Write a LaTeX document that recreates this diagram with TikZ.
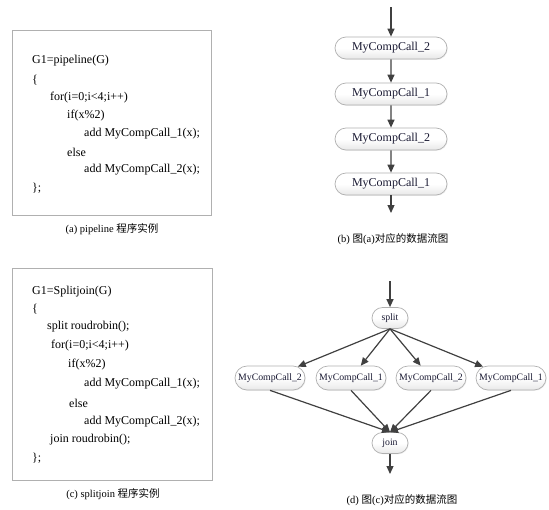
\documentclass[tikz,border=0pt]{standalone}
\usepackage{fontspec}
\setmainfont{Liberation Serif}
\newfontfamily\cjk{Noto Sans CJK SC}
\usetikzlibrary{shapes.misc,arrows.meta,shadows}
\definecolor{arr}{HTML}{404040}
\definecolor{txt}{HTML}{1A1A33}
\definecolor{bord}{HTML}{B0B0B0}
\begin{document}
\begin{tikzpicture}[x=1pt,y=-1pt,
  code/.style={anchor=west,inner sep=0pt,font=\fontsize{12}{14}\selectfont,text=black},
  capt/.style={inner sep=0pt,font=\fontsize{10.5}{12}\selectfont,text=black},
  codebox/.style={draw=bord,line width=0.8pt},
  flow/.style={rounded rectangle,draw=bord,line width=0.7pt,top color=white,bottom color=black!9,
     middle color=white,
     text=txt,inner sep=0pt,drop shadow={opacity=0.12,shadow xshift=0.8pt,shadow yshift=-0.8pt}},
  bnode/.style={flow,minimum width=112pt,minimum height=22pt,font=\fontsize{12}{14}\selectfont},
  dnode/.style={flow,minimum width=70pt,minimum height=24pt,font=\fontsize{9.8}{12}\selectfont},
  snode/.style={flow,minimum width=36pt,minimum height=21pt,font=\fontsize{9.8}{12}\selectfont},
  flowarr/.style={draw=arr,line width=1.2pt,-{Triangle[length=8pt,width=7pt]}},
]
\useasboundingbox (0,0) rectangle (549,509);
% ---------- (a)
\draw[codebox] (12,30) rectangle (211,215);
\node[code] (a1) at (32,61) {G1=pipeline(G)};
\node[code] (a2) at (32,80) {\{};
\node[code] (a3) at (50,98) {for(i=0;i<4;i++)};
\node[code] (a4) at (67,116) {if(x\%2)};
\node[code] (a5) at (84,134) {add MyCompCall\_1(x);};
\node[code] (a6) at (67,152) {else};
\node[code] (a7) at (84,170) {add MyCompCall\_2(x);};
\node[code] (a8) at (32,188) {\};};
\node[capt] (capa) at (112,229) {(a) pipeline {\cjk 程序实例}};
% ---------- (c)
\draw[codebox] (12,268) rectangle (212,480);
\node[code] (c1) at (32,292) {G1=Splitjoin(G)};
\node[code] (c2) at (32,309) {\{};
\node[code] (c3) at (47,327) {split roudrobin();};
\node[code] (c4) at (51,346) {for(i=0;i<4;i++)};
\node[code] (c5) at (68,365) {if(x\%2)};
\node[code] (c6) at (84,384) {add MyCompCall\_1(x);};
\node[code] (c7) at (69,403) {else};
\node[code] (c8) at (84,422) {add MyCompCall\_2(x);};
\node[code] (c9) at (50,440) {join roudrobin();};
\node[code] (c10) at (32,458) {\};};
\node[capt] (capc) at (113,494) {(c) splitjoin {\cjk 程序实例}};
% ---------- (b)
\coordinate (btop) at (391,7);
\node[bnode] (b1) at (391,48) {MyCompCall\_2};
\node[bnode] (b2) at (391,94) {MyCompCall\_1};
\node[bnode] (b3) at (391,139) {MyCompCall\_2};
\node[bnode] (b4) at (391,184) {MyCompCall\_1};
\coordinate (bbot) at (391,213);
\draw[flowarr] (btop) -- (b1);
\draw[flowarr] (b1) -- (b2);
\draw[flowarr] (b2) -- (b3);
\draw[flowarr] (b3) -- (b4);
\draw[flowarr] (b4) -- (bbot);
\node[capt] (capb) at (393,239) {(b) {\cjk 图}(a){\cjk 对应的数据流图}};
% ---------- (d)
\coordinate (dtop) at (390,281);
\node[snode] (split) at (390,318) {split};
\node[dnode] (d1) at (270,378) {MyCompCall\_2};
\node[dnode] (d2) at (351,378) {MyCompCall\_1};
\node[dnode] (d3) at (431,378) {MyCompCall\_2};
\node[dnode] (d4) at (511,378) {MyCompCall\_1};
\node[snode] (join) at (390,443) {join};
\coordinate (dbot) at (390,474);
\draw[flowarr] (dtop) -- (split);
\foreach \n in {d1,d2,d3,d4}{
  \draw[flowarr] (split.south) -- (\n);
  \draw[flowarr] (\n.south) -- (join.north);
}
\draw[flowarr] (join) -- (dbot);
\node[capt] (capd) at (402,500) {(d) {\cjk 图}(c){\cjk 对应的数据流图}};
\end{tikzpicture}
\end{document}
